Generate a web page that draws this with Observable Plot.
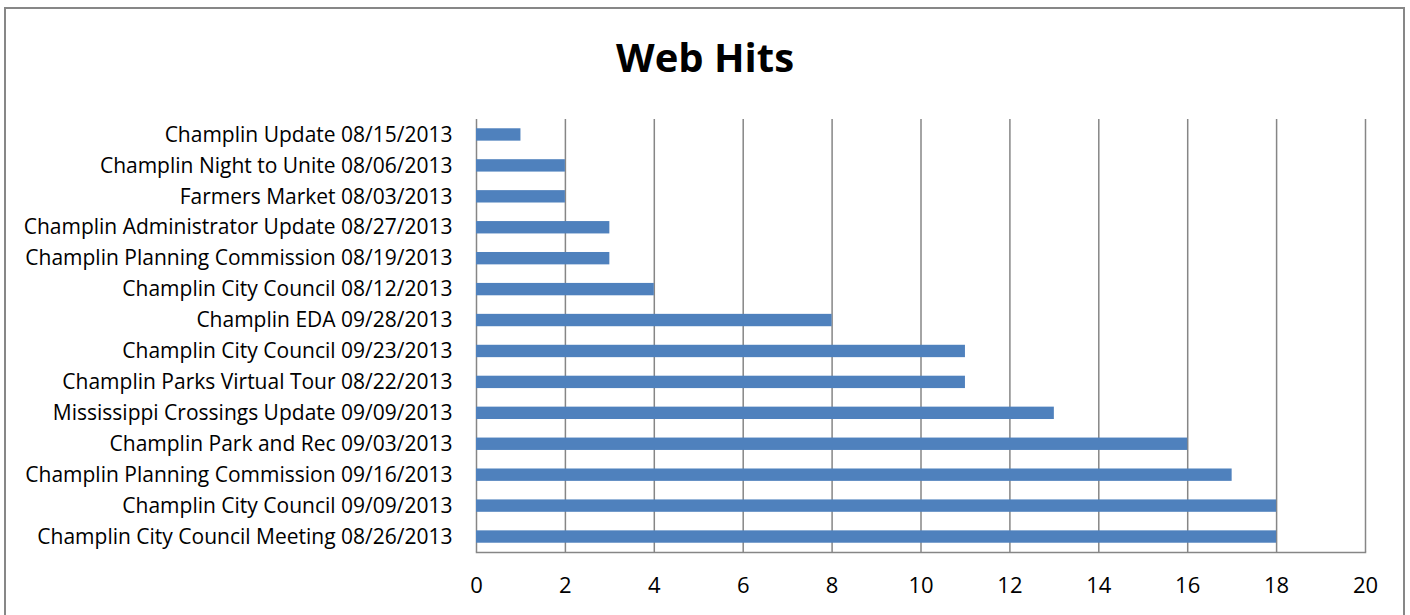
<!DOCTYPE html>
<html>
<head>
<meta charset="utf-8">
<script src="https://cdn.jsdelivr.net/npm/d3@7"></script>
<script src="https://cdn.jsdelivr.net/npm/@observablehq/plot@0.6"></script>
<style>
  html, body { margin: 0; padding: 0; background: #fff; }
  #wrap { position: relative; width: 1410px; height: 615px; overflow: hidden; font-family: "Open Sans", Lato, sans-serif; }
  #border { position: absolute; left: 4px; top: 7px; width: 1401px; height: 640px; border: 2px solid #878787; box-sizing: border-box; }
  #title { position: absolute; left: 0; top: 0; width: 1410px; height: 100px; text-align: center; font-size: 40px; font-weight: bold; line-height: 114px; color: #000; }
  #chart { position: absolute; left: 0; top: 100px; }
</style>
</head>
<body>
<div id="wrap">
  <div id="border"></div>
  <div id="title">Web Hits</div>
  <div id="chart"></div>
</div>
<script>
const pages = [
  "Champlin Update 08/15/2013",
  "Champlin Night to Unite 08/06/2013",
  "Farmers Market 08/03/2013",
  "Champlin Administrator Update 08/27/2013",
  "Champlin Planning Commission 08/19/2013",
  "Champlin City Council 08/12/2013",
  "Champlin EDA 09/28/2013",
  "Champlin City Council 09/23/2013",
  "Champlin Parks Virtual Tour 08/22/2013",
  "Mississippi Crossings Update 09/09/2013",
  "Champlin Park and Rec 09/03/2013",
  "Champlin Planning Commission 09/16/2013",
  "Champlin City Council 09/09/2013",
  "Champlin City Council Meeting 08/26/2013"
];
const hits = [1, 2, 2, 3, 3, 4, 8, 11, 11, 13, 16, 17, 18, 18];
const xTicks = [0, 2, 4, 6, 8, 10, 12, 14, 16, 18, 20];

const data = pages.map((p, i) => ({page: p, hits: hits[i]}));

const chart = Plot.plot({
  width: 1410,
  height: 515,
  marginLeft: 476,
  marginRight: 45,
  marginTop: 19,
  marginBottom: 63,
  style: {fontFamily: "'Open Sans', Lato, sans-serif", fontSize: "21px", color: "#000", background: "transparent"},
  x: {domain: [0, 20], ticks: xTicks},
  y: {domain: pages, paddingInner: 0.6, paddingOuter: 0.3, align: 0.5, round: false},
  marks: [
    Plot.ruleX(xTicks, {stroke: "#868686", strokeWidth: 1.5, strokeOpacity: 1}),
    Plot.barX(data, {x: "hits", y: "page", fill: "#4F81BD"}),
    Plot.frame({anchor: "bottom", stroke: "#868686", strokeWidth: 1.5}),
    Plot.axisX({ticks: xTicks, tickSize: 0, tickPadding: 25, fontSize: 22, label: null}),
    Plot.axisY({tickSize: 0, tickPadding: 24, fontSize: 21, label: null})
  ]
});
document.getElementById("chart").appendChild(chart);
</script>
</body>
</html>
